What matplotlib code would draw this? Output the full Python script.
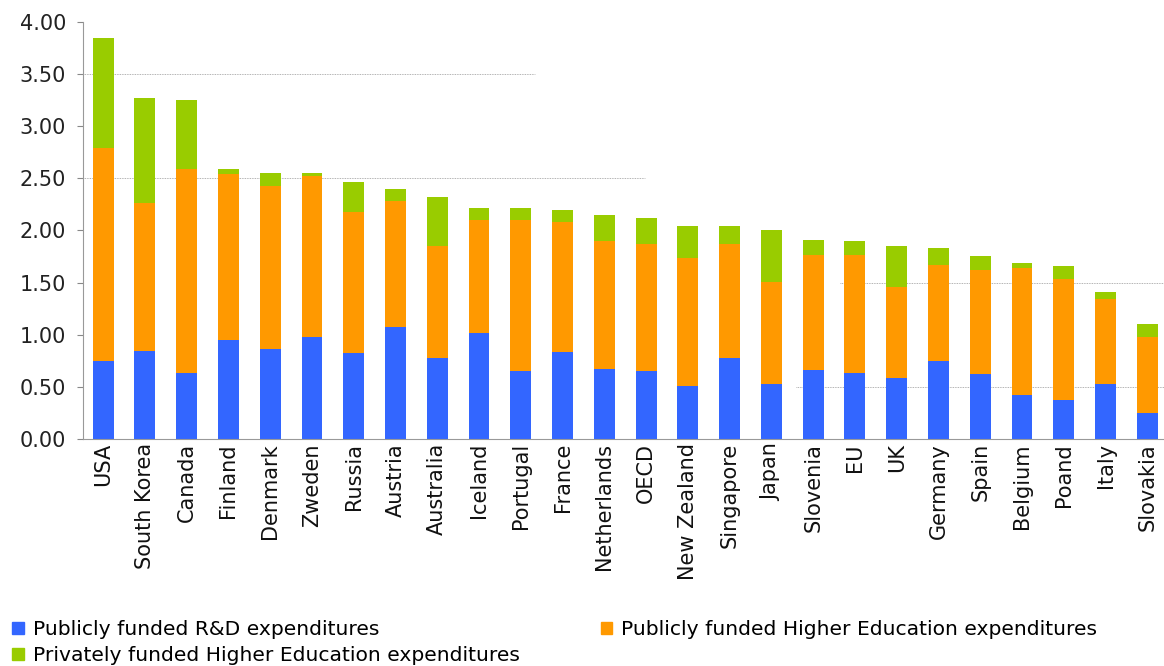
import numpy as np
import matplotlib
matplotlib.use("Agg")
import matplotlib.pyplot as plt
from matplotlib.patches import Patch

# Data (% of GDP, stacked)
countries = ['USA', 'South Korea', 'Canada', 'Finland', 'Denmark', 'Zweden', 'Russia',
             'Austria', 'Australia', 'Iceland', 'Portugal', 'France', 'Netherlands',
             'OECD', 'New Zealand', 'Singapore', 'Japan', 'Slovenia', 'EU', 'UK',
             'Germany', 'Spain', 'Belgium', 'Poand', 'Italy', 'Slovakia']
public_rd = [0.75, 0.84, 0.63, 0.95, 0.86, 0.98, 0.82, 1.07, 0.78, 1.02, 0.65, 0.83,
             0.67, 0.65, 0.51, 0.78, 0.53, 0.66, 0.63, 0.58, 0.75, 0.62, 0.42, 0.37,
             0.53, 0.25]
public_he_top = [2.79, 2.26, 2.59, 2.54, 2.43, 2.52, 2.18, 2.28, 1.85, 2.10, 2.10, 2.08,
                 1.90, 1.87, 1.74, 1.87, 1.51, 1.76, 1.76, 1.46, 1.67, 1.62, 1.64, 1.53,
                 1.34, 0.98]
total = [3.85, 3.27, 3.25, 2.59, 2.55, 2.55, 2.46, 2.40, 2.32, 2.22, 2.22, 2.20,
         2.15, 2.12, 2.04, 2.04, 2.00, 1.91, 1.90, 1.85, 1.83, 1.75, 1.69, 1.66,
         1.41, 1.10]

public_he = [t - b for t, b in zip(public_he_top, public_rd)]
private_he = [t - o for t, o in zip(total, public_he_top)]

blue = '#3366FF'
orange = '#FF9900'
green = '#99CC00'

fig = plt.figure(figsize=(11.64, 6.66), dpi=100)
ax = fig.add_axes([0.071, 0.341, 0.929, 0.626])

x = np.arange(len(countries))
w = 0.5
ax.bar(x, public_rd, w, color=blue)
ax.bar(x, public_he, w, bottom=public_rd, color=orange)
ax.bar(x, private_he, w, bottom=public_he_top, color=green)

# faint partial gridlines as in the original
grid = dict(color='#999999', lw=0.6, ls=(0, (1, 1)), zorder=0)
ax.axhline(3.5, xmin=0.0, xmax=0.418, **grid)
ax.axhline(2.5, xmin=0.0, xmax=0.52, **grid)
ax.axhline(1.5, xmin=0.70, xmax=1.0, **grid)
ax.axhline(0.5, xmin=0.66, xmax=1.0, **grid)

ax.set_ylim(0, 4.0)
ax.set_xlim(-0.49, len(countries) - 0.6)
yt = np.arange(0, 4.01, 0.5)
ax.set_yticks(yt)
ax.set_yticklabels([f'{v:.2f}' for v in yt], fontsize=15, color='#222222')
ax.set_xticks(x)
ax.set_xticklabels(countries, rotation=90, fontsize=15, color='#111111')
ax.tick_params(axis='x', length=0, pad=3)
ax.tick_params(axis='y', length=4, color='#888888', pad=8)

for s in ['top', 'right']:
    ax.spines[s].set_visible(False)
ax.spines['left'].set_color('#999999')
ax.spines['bottom'].set_color('#999999')

handles = [Patch(color=blue, label='Publicly funded R&D expenditures'),
           Patch(color=green, label='Privately funded Higher Education expenditures'),
           Patch(color=orange, label='Publicly funded Higher Education expenditures')]
fig.legend(handles=handles, loc='lower left', bbox_to_anchor=(-0.005, -0.026), ncol=2,
           frameon=False, fontsize=14.6, handlelength=0.55, handleheight=0.55,
           handletextpad=0.45, columnspacing=4.0, labelspacing=0.33)

fig.savefig('out.png', dpi=100)
